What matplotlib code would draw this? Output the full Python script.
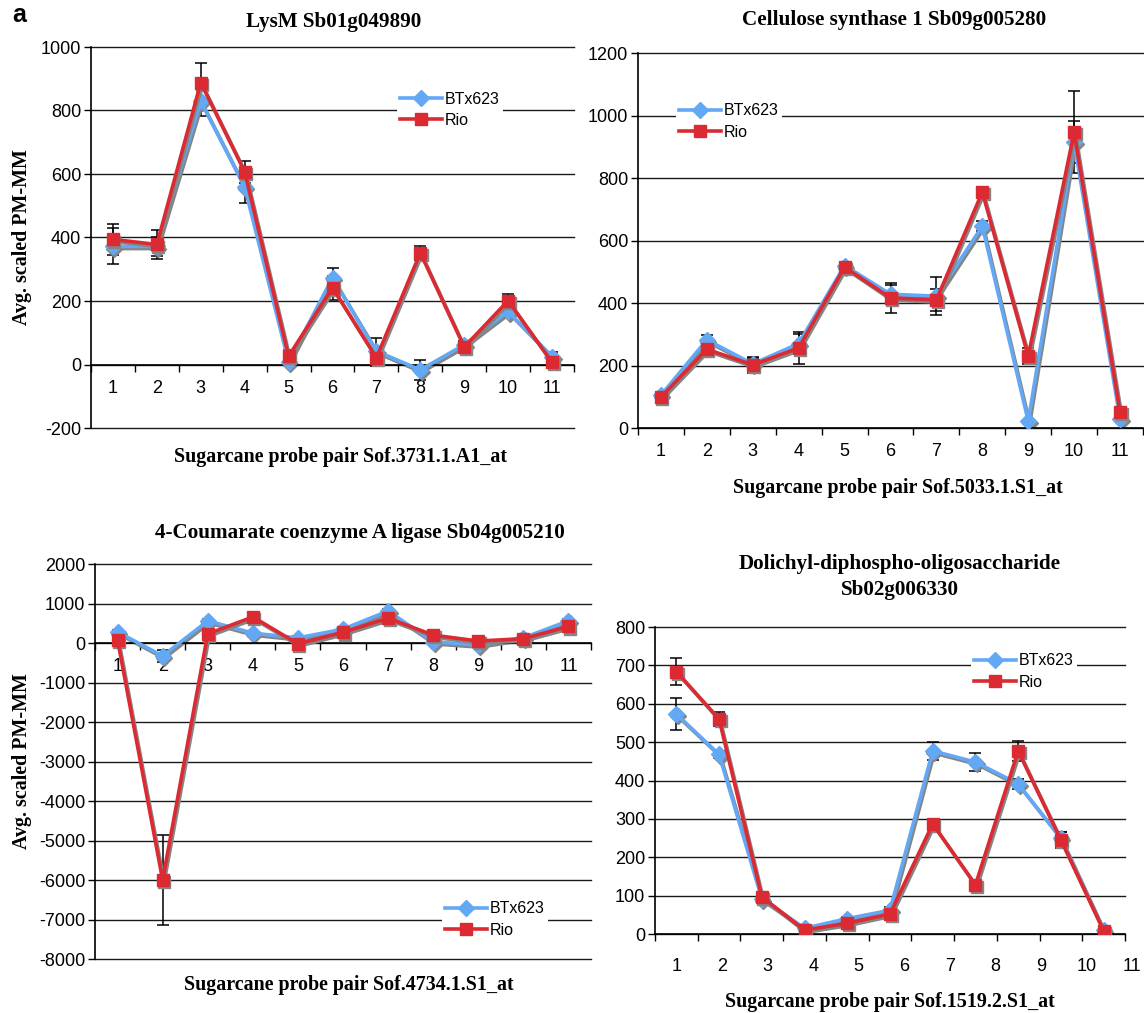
import matplotlib
matplotlib.use('Agg')
import matplotlib.pyplot as plt
from matplotlib.lines import Line2D
from matplotlib.transforms import offset_copy
import numpy as np

plt.rcParams['font.family'] = 'Liberation Sans'
plt.rcParams['axes.unicode_minus'] = False

# probe pair positions (categories)
probes = list(range(1, 12))
tick_labels = [str(p) for p in probes]

# LysM Sb01g049890
lysm_btx = [372, 372, 829, 559, 8, 273, 42, -17, 62, 167, 25]
lysm_rio = [394, 378, 888, 607, 26, 242, 21, 352, 55, 201, 7]
lysm_btx_err = [57, 30, 45, 50, 10, 32, 40, 32, 12, 12, 13]
lysm_rio_err = [50, 45, 63, 35, 20, 38, 25, 22, 10, 20, 10]

# Cellulose synthase 1 Sb09g005280
cesa_btx = [105, 282, 205, 270, 520, 428, 422, 646, 22, 915, 28]
cesa_rio = [99, 252, 202, 256, 515, 416, 410, 755, 230, 947, 51]
cesa_btx_err = [8, 15, 20, 32, 10, 30, 60, 15, 5, 68, 5]
cesa_rio_err = [10, 12, 25, 50, 10, 48, 35, 10, 25, 132, 5]

# 4-Coumarate coenzyme A ligase Sb04g005210
cl_btx = [280, -330, 560, 250, 130, 350, 810, 30, -50, 130, 560]
cl_rio = [80, -6000, 230, 660, -20, 270, 630, 200, 50, 110, 420]
cl_btx_err = [40, 150, 60, 60, 40, 40, 60, 40, 40, 40, 60]
cl_rio_err = [40, 1130, 60, 60, 40, 40, 60, 40, 40, 40, 60]

# Dolichyl-diphospho-oligosaccharide Sb02g006330
dol_btx = [573, 468, 92, 15, 40, 62, 477, 448, 391, 250, 10]
dol_rio = [684, 560, 97, 10, 28, 52, 287, 128, 477, 245, 8]
dol_btx_err = [42, 10, 5, 3, 5, 8, 23, 23, 12, 15, 3]
dol_rio_err = [35, 18, 5, 3, 5, 5, 8, 8, 25, 20, 3]

W, H = 1144, 1013
fig = plt.figure(figsize=(W / 100, H / 100), dpi=100)

blue = '#62A8F5'
red = '#DC2A33'
grey = '#858585'
serif = 'Liberation Serif'


def px_axes(l, t, r, b):
    return fig.add_axes([l / W, 1 - b / H, (r - l) / W, (b - t) / H])


def fig_text(x, y, s, **kw):
    fig.text(x / W, 1 - y / H, s, ha='center', va='center', **kw)


def draw_series(ax, vals, color, marker, ms, z):
    # excel-like drop shadow, then the series itself
    sh = offset_copy(ax.transData, fig=fig, x=1.5, y=-2.2, units='dots')
    ax.plot(probes, vals, color=grey, lw=2.6, marker=marker, ms=ms, mec=grey, mfc=grey,
            transform=sh, zorder=z - 0.5)
    ax.plot(probes, vals, color=color, lw=2.6, marker=marker, ms=ms, mec=color, mfc=color,
            zorder=z)


def draw_panel(ax, btx, btx_err, rio, rio_err, ymin, ymax, ystep, legend_xy, shifted=False):
    ax.set_xlim(0.5, 11.5)
    ax.set_ylim(ymin, ymax)
    yticks = np.arange(ymin, ymax + ystep / 2, ystep)
    for v in yticks:
        ax.axhline(v, color='#1a1a1a', lw=1.0, zorder=1, clip_on=False)
    ax.set_yticks(yticks)
    ax.tick_params(axis='y', direction='out', length=5, width=1, labelsize=13, pad=2)

    ax.errorbar(probes, btx, yerr=btx_err, fmt='none', ecolor='black', elinewidth=1.1,
                capsize=4, capthick=1.1, zorder=2)
    ax.errorbar(probes, rio, yerr=rio_err, fmt='none', ecolor='black', elinewidth=1.1,
                capsize=4, capthick=1.1, zorder=2)
    draw_series(ax, btx, blue, 'D', 8, 3)
    draw_series(ax, rio, red, 's', 9, 4)

    for s in ['top', 'right']:
        ax.spines[s].set_visible(False)
    ax.spines['left'].set_linewidth(1.2)
    ax.spines['bottom'].set_linewidth(1.2)
    ax.spines['bottom'].set_position(('data', 0))
    ax.set_xticks(np.arange(0.5, 12, 1))
    ax.set_xticklabels([])
    ax.tick_params(axis='x', which='major', direction='out', length=5, width=1)
    if not shifted:
        ax.set_xticks(probes, minor=True)
        ax.set_xticklabels(tick_labels, minor=True)
        ax.tick_params(axis='x', which='minor', length=0, pad=11, labelsize=13)
    else:
        for i, lab in enumerate(tick_labels):
            ax.text(1 + i * 1.067, -0.107, lab, transform=ax.get_xaxis_transform(),
                    ha='center', va='center', fontsize=13, clip_on=False)

    handles = [Line2D([], [], color=blue, lw=2.6, marker='D', ms=8),
               Line2D([], [], color=red, lw=2.6, marker='s', ms=9)]
    leg = ax.legend(handles, ['BTx623', 'Rio'], loc='center', bbox_to_anchor=legend_xy,
                    frameon=True, fontsize=11.5, handlelength=2.6, handletextpad=0.2,
                    labelspacing=0.4, borderpad=0.2, fancybox=False)
    leg.get_frame().set_facecolor('white')
    leg.get_frame().set_edgecolor('none')
    leg.get_frame().set_alpha(1)
    leg.set_zorder(6)


ax1 = px_axes(91, 47, 574, 428)
draw_panel(ax1, lysm_btx, lysm_btx_err, lysm_rio, lysm_rio_err, -200, 1000, 200, (0.743, 0.835))

ax2 = px_axes(638, 53, 1143, 428)
draw_panel(ax2, cesa_btx, cesa_btx_err, cesa_rio, cesa_rio_err, 0, 1200, 200, (0.18, 0.817))

ax3 = px_axes(95, 564, 591, 959)
draw_panel(ax3, cl_btx, cl_btx_err, cl_rio, cl_rio_err, -8000, 2000, 1000, (0.806, 0.10))

ax4 = px_axes(655, 627, 1125, 934)
draw_panel(ax4, dol_btx, dol_btx_err, dol_rio, dol_rio_err, 0, 800, 100, (0.785, 0.855), shifted=True)

# titles
fig_text(334, 22, 'LysM Sb01g049890', family=serif, weight='bold', fontsize=15.2)
fig_text(894, 20, 'Cellulose synthase 1 Sb09g005280', family=serif, weight='bold', fontsize=15.2)
fig_text(360, 533, '4-Coumarate coenzyme A ligase Sb04g005210', family=serif, weight='bold', fontsize=15.2)
fig_text(900, 577, 'Dolichyl-diphospho-oligosaccharide\nSb02g006330', family=serif, weight='bold',
         fontsize=15.2, linespacing=1.35)

# axis labels
fig_text(340, 457, 'Sugarcane probe pair Sof.3731.1.A1_at', family=serif, weight='bold', fontsize=14.4)
fig_text(898, 488, 'Sugarcane probe pair Sof.5033.1.S1_at', family=serif, weight='bold', fontsize=14.4)
fig_text(349, 985, 'Sugarcane probe pair Sof.4734.1.S1_at', family=serif, weight='bold', fontsize=14.4)
fig_text(890, 1002, 'Sugarcane probe pair Sof.1519.2.S1_at', family=serif, weight='bold', fontsize=14.4)
fig_text(22, 237, 'Avg. scaled PM-MM', family=serif, weight='bold', fontsize=14.4, rotation=90)
fig_text(22, 761, 'Avg. scaled PM-MM', family=serif, weight='bold', fontsize=14.4, rotation=90)

fig_text(19, 15, 'a', weight='bold', fontsize=18)

fig.savefig('out.png', dpi=100)
